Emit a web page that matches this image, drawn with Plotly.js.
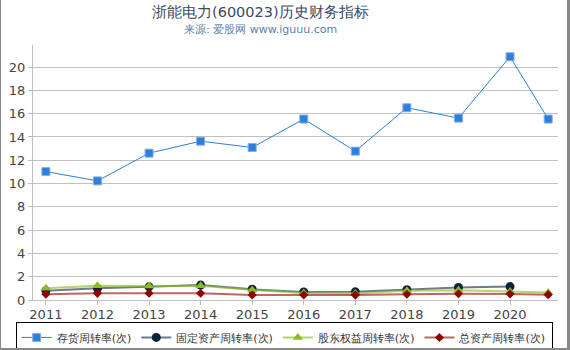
<!DOCTYPE html>
<html>
<head>
<meta charset="utf-8">
<script src="https://cdn.plot.ly/plotly-3.0.1.min.js"></script>
<style>
html,body{margin:0;padding:0;background:#fff;}
#wrap{position:relative;width:570px;height:350px;}
#chart{width:570px;height:350px;}
#frame{position:absolute;left:0;top:0;width:570px;height:350px;box-sizing:border-box;border-left:1px solid #888;border-right:3px solid #888;border-bottom:2px solid #888;pointer-events:none;}
</style>
</head>
<body>
<div id="wrap"><div id="chart"></div><div id="frame"></div></div>
<script>
const xs = [2011, 2012, 2013, 2014, 2015, 2016, 2017, 2018, 2019, 2020, 2020.74];
const names = ["存货周转率(次)", "固定资产周转率(次)", "股东权益周转率(次)", "总资产周转率(次)"];
const inventory = [11.03, 10.23, 12.61, 13.64, 13.1, 15.54, 12.78, 16.51, 15.62, 20.89, 15.54];
const fixedAsset = [0.8, 1.0, 1.13, 1.28, 0.92, 0.69, 0.7, 0.89, 1.08, 1.15, null];
const equity = [1.0, 1.22, 1.2, 1.22, 0.86, 0.6, 0.55, 0.8, 0.83, 0.72, 0.65];
const totalAsset = [0.49, 0.57, 0.58, 0.58, 0.43, 0.43, 0.42, 0.49, 0.54, 0.52, 0.46];
const tickVals = [2011, 2012, 2013, 2014, 2015, 2016, 2017, 2018, 2019, 2020];
const tickText = ["2011", "2012", "2013", "2014", "2015", "2016", "2017", "2018", "2019", "2020"];

const traces = [
  {x: xs, y: inventory, name: names[0], mode: 'lines+markers',
   line: {color: '#2f7ed8', width: 1},
   marker: {symbol: 'square', size: 8, color: '#2f7ed8', line: {color: '#7fb0ea', width: 1}}},
  {x: xs, y: fixedAsset, name: names[1], mode: 'lines+markers',
   line: {color: 'rgba(13,35,58,0.6)', width: 2},
   marker: {symbol: 'circle', size: 9, color: '#0d233a'}},
  {x: xs, y: equity, name: names[2], mode: 'lines+markers',
   line: {color: 'rgba(139,188,33,0.65)', width: 2},
   marker: {symbol: 'triangle-up', size: 9, color: '#8bbc21'}},
  {x: xs, y: totalAsset, name: names[3], mode: 'lines+markers',
   line: {color: 'rgba(145,0,0,0.6)', width: 2},
   marker: {symbol: 'diamond', size: 7, color: '#910000'}}
];

const layout = {
  width: 570, height: 350,
  margin: {l: 33, r: 12, t: 45, b: 50, autoexpand: false},
  paper_bgcolor: '#fff', plot_bgcolor: '#fff',
  font: {family: 'DejaVu Sans, sans-serif', size: 13, color: '#444'},
  showlegend: true,
  legend: {orientation: 'h', x: -0.033, xanchor: 'left', y: -0.086, yanchor: 'top',
           bgcolor: 'rgba(255,255,255,0)',
           bordercolor: '#000', borderwidth: 1, font: {size: 11, color: '#333'},
           itemwidth: 30, tracegroupgap: 0},
  xaxis: {range: [2010.75, 2020.93], tickmode: 'array', tickvals: tickVals, ticktext: tickText,
          showgrid: false, zeroline: false, showline: true, linecolor: '#c0c0c0', linewidth: 1,
          ticks: 'outside', ticklen: 4, tickcolor: '#c0c0c0', ticklabelstandoff: -2,
          tickfont: {size: 13, color: '#444'}},
  yaxis: {range: [0, 21.9], dtick: 2, tick0: 0, showgrid: true, gridcolor: '#c0c0c0', gridwidth: 1,
          zeroline: false, showline: true, linecolor: '#c0c0c0', linewidth: 1,
          ticks: 'outside', ticklen: 4, tickcolor: '#c0c0c0', tickfont: {size: 13, color: '#444'}},
  annotations: [
    {text: '浙能电力(600023)历史财务指标', xref: 'paper', yref: 'paper', x: 0.434, y: 1, xanchor: 'center', yanchor: 'bottom',
     yshift: 23, showarrow: false, font: {size: 14.5, color: '#3a4a64'}},
    {text: '来源: 爱股网 www.iguuu.com', xref: 'paper', yref: 'paper', x: 0.434, y: 1, xanchor: 'center', yanchor: 'bottom',
     yshift: 7, showarrow: false, font: {size: 11, color: '#5b7fa5'}}
  ]
};

Plotly.newPlot('chart', traces, layout, {displayModeBar: false, staticPlot: true});
</script>
</body>
</html>
